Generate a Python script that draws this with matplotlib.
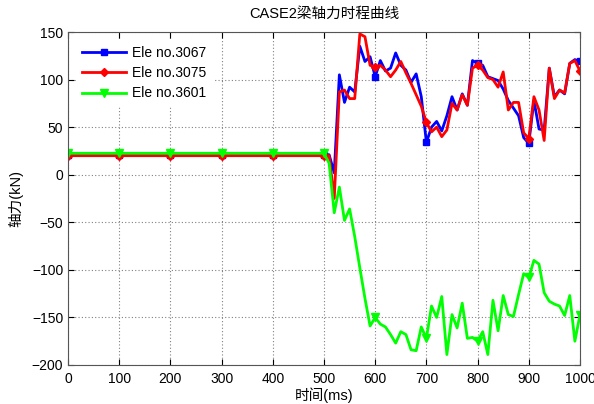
import numpy as np
import matplotlib
matplotlib.use("Agg")
import matplotlib.pyplot as plt

plt.rcParams['font.family'] = ['Liberation Sans', 'Noto Sans CJK SC', 'DejaVu Sans']

title = "CASE2梁轴力时程曲线"
xlabel = "时间(ms)"
ylabel = "轴力(kN)"
labels = ["Ele no.3067", "Ele no.3075", "Ele no.3601"]

time = list(range(0, 1001, 10))

# flat part 0..490 ms
flat_3067 = [21] * 50
flat_3075 = [20] * 50
flat_3601 = [22.5] * 50

# 500..1000 ms
tail_3067 = [21, 21, 2, 105, 76, 92, 87, 135, 119, 124,
             103, 120, 109, 112, 128, 115, 110, 97, 106, 82,
             34, 50, 56, 46, 62, 82, 68, 85, 73, 120,
             117, 115, 103, 101, 99, 90, 78, 70, 62, 39,
             33, 78, 48, 47, 112, 82, 89, 85, 117, 121,
             119]
tail_3075 = [20, 20, -25, 87, 89, 80, 80, 148, 145, 115,
             113, 115, 110, 103, 110, 119, 107, 96, 84, 72,
             55, 45, 50, 40, 47, 75, 68, 84, 73, 112,
             115, 110, 102, 100, 92, 108, 68, 76, 76, 44,
             38, 82, 68, 36, 112, 80, 89, 86, 117, 120,
             109]
tail_3601 = [22.5, 12, -40, -13, -48, -36, -65, -98, -130, -159,
             -150, -157, -160, -168, -177, -165, -168, -184, -185, -160,
             -172, -138, -150, -128, -189, -147, -161, -135, -172, -171,
             -175, -165, -189, -132, -164, -127, -147, -149, -126, -104,
             -108, -90, -94, -124, -133, -136, -138, -148, -127, -175,
             -147]

ele_3067 = flat_3067 + tail_3067
ele_3075 = flat_3075 + tail_3075
ele_3601 = flat_3601 + tail_3601

xticks = [0, 100, 200, 300, 400, 500, 600, 700, 800, 900, 1000]
yticks = [-200, -150, -100, -50, 0, 50, 100, 150]

fig = plt.figure(figsize=(5.94, 4.04), dpi=100)
ax = fig.add_axes([68/594, 1-365/404, (580-68)/594, (365-32)/404])

ax.plot(time, ele_3067, color=(0, 0, 1), lw=2, marker='s', ms=5,
        markevery=10, label=labels[0])
ax.plot(time, ele_3075, color=(1, 0, 0), lw=2, marker='D', ms=4,
        markevery=10, label=labels[1])
ax.plot(time, ele_3601, color=(0, 1, 0), lw=2, marker='v', ms=6,
        markevery=10, label=labels[2])

ax.set_xlim(0, 1000)
ax.set_ylim(-200, 150)
ax.set_xticks(xticks)
ax.set_yticks(yticks)
ax.tick_params(direction='in', labelsize=10, length=4, top=True, right=True)
ax.tick_params(axis='x', pad=5)
ax.grid(True, linestyle=(0, (1, 2)), color='#808080', linewidth=0.8)
for s in ax.spines.values():
    s.set_color('#555555')
    s.set_linewidth(0.8)

ax.set_title(title, fontsize=10.5, pad=10)
ax.set_xlabel(xlabel, fontsize=10.5, labelpad=1)
ax.set_ylabel(ylabel, fontsize=10.5, labelpad=6)

leg = ax.legend(loc='upper left', fontsize=10, frameon=True, handlelength=3.2,
                handletextpad=0.4, labelspacing=0.45, borderaxespad=0.6)
leg.get_frame().set_edgecolor('white')
leg.get_frame().set_facecolor('white')
leg.get_frame().set_alpha(1)

fig.savefig("out.png", dpi=100)
